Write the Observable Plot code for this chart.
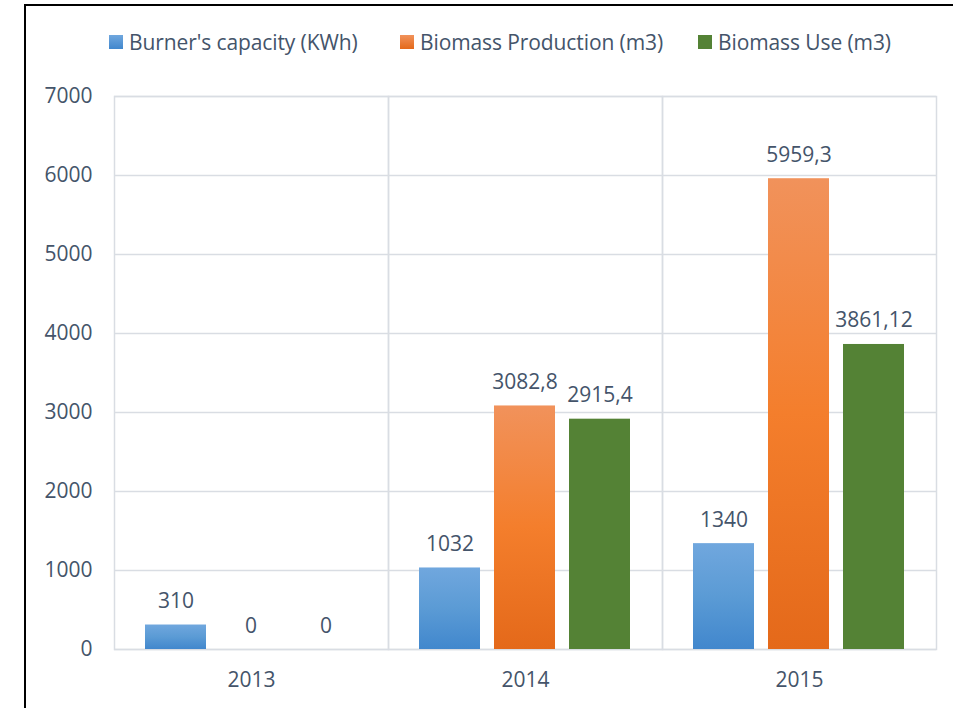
<!DOCTYPE html>
<html>
<head>
<meta charset="utf-8">
<script src="https://cdn.jsdelivr.net/npm/d3@7"></script>
<script src="https://cdn.jsdelivr.net/npm/@observablehq/plot@0.6"></script>
<style>
  html, body { margin: 0; padding: 0; background: #fff; overflow: hidden; }
  #wrap { position: relative; width: 953px; height: 708px; font-family: "Open Sans", sans-serif; color: #44546A; }
  #border { position: absolute; left: 24px; top: 4px; width: 2000px; height: 2000px;
            border-left: 2px solid #000; border-top: 2px solid #000; pointer-events: none; }
  #legend { position: relative; height: 80px; }
  .item { position: absolute; top: 28px; display: flex; align-items: center; font-size: 21px; letter-spacing: -0.1px; white-space: nowrap; }
  .sw { width: 14px; height: 14px; margin-right: 6px; }
  svg { display: block; }
</style>
</head>
<body>
<div id="wrap">
  <div id="border"></div>
  <div id="legend"></div>
  <div id="chart"></div>
</div>
<script>
const years = ["2013", "2014", "2015"];
const series = ["Burner's capacity (KWh)", "Biomass Production (m3)", "Biomass Use (m3)"];
const burner = [310, 1032, 1340];
const production = [0, 3082.8, 5959.3];
const use = [0, 2915.4, 3861.12];
const yTicks = [0, 1000, 2000, 3000, 4000, 5000, 6000, 7000];

const seriesValues = [burner, production, use];
const rows = years.flatMap((yr, i) => series.map((s, j) => ({year: yr, series: s, value: seriesValues[j][i]})));
const fmt = v => String(v).replace(".", ",");

const legendSwatches = [
  "linear-gradient(#70a7de, #4187cd)",
  "linear-gradient(#f1925b, #e4691a)",
  "#548235"
];
const legendX = [109, 400, 698];
const legend = document.getElementById("legend");
series.forEach((s, i) => {
  const it = document.createElement("div");
  it.className = "item";
  it.style.left = legendX[i] + "px";
  const sw = document.createElement("div");
  sw.className = "sw";
  sw.style.background = legendSwatches[i];
  const t = document.createElement("span");
  t.textContent = s;
  it.appendChild(sw); it.appendChild(t);
  legend.appendChild(it);
});

const gridColor = "#d9dde3";
const chart = Plot.plot({
  width: 953,
  height: 628,
  marginLeft: 114,
  marginRight: 17,
  marginTop: 16,
  marginBottom: 59,
  style: {fontFamily: "Open Sans", fontSize: "21px", color: "#44546A", background: "transparent"},
  fx: {domain: years, paddingInner: 0, paddingOuter: 0, label: null},
  x: {domain: series, paddingInner: 0.184, paddingOuter: 0.395, axis: null},
  y: {domain: [0, 7000], label: null},
  color: {type: "ordinal", domain: series, range: ["url(#gBlue)", "url(#gOrange)", "#548235"]},
  marks: [
    Plot.gridY(yTicks, {stroke: gridColor, strokeOpacity: 1, strokeWidth: 1.5}),
    Plot.frame({stroke: gridColor, strokeWidth: 1.5}),
    Plot.barY(rows, {fx: "year", x: "series", y: "value", fill: "series"}),
    Plot.text(rows, {fx: "year", x: "series", y: "value", text: d => fmt(d.value), dy: -17, lineAnchor: "bottom", fill: "#44546A"}),
    Plot.axisY(yTicks, {tickSize: 0, tickPadding: 22, label: null, tickFormat: d => String(d), fill: "#44546A"}),
    Plot.axisFx({anchor: "bottom", tickSize: 0, tickPadding: 23, label: null, fill: "#44546A"})
  ]
});
d3.select(chart).insert("defs", ":first-child").html(`
  <linearGradient id="gBlue" x1="0" y1="0" x2="0" y2="1">
    <stop offset="0" stop-color="#70a7de"/>
    <stop offset="0.5" stop-color="#5b9bd5"/>
    <stop offset="1" stop-color="#4187cd"/>
  </linearGradient>
  <linearGradient id="gOrange" x1="0" y1="0" x2="0" y2="1">
    <stop offset="0" stop-color="#f1925b"/>
    <stop offset="0.5" stop-color="#f47e2c"/>
    <stop offset="1" stop-color="#e4691a"/>
  </linearGradient>`);
document.getElementById("chart").appendChild(chart);
</script>
</body>
</html>
